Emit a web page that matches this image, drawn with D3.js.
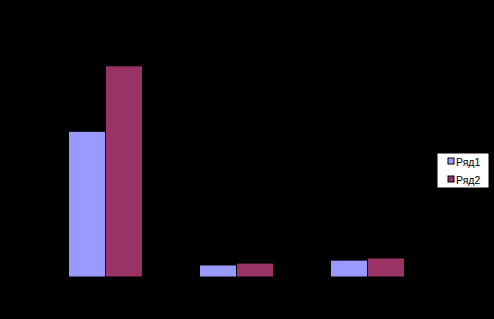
<!DOCTYPE html>
<html>
<head>
<meta charset="utf-8">
<script src="https://cdn.jsdelivr.net/npm/d3@7"></script>
<style>
  html, body { margin: 0; padding: 0; background: #000; }
  svg { display: block; }
</style>
</head>
<body>
<svg id="chart"></svg>
<script>
var categories = ["1", "2", "3"];
var seriesNames = ["Ряд1", "Ряд2"];
var series1 = [69, 5.7, 8];
var series2 = [100, 6.6, 9];
var colors = ["#9999FF", "#993366"];

var width = 494, height = 319;
var svg = d3.select("svg#chart").attr("width", width).attr("height", height);

svg.append("rect").attr("width", width).attr("height", height).attr("fill", "#000");

var plot = { left: 40, right: 433, top: 13, bottom: 277 };

var x = d3.scaleBand().domain(categories).range([plot.left, plot.right]).paddingInner(0.435).paddingOuter(0.2175);
var x1 = d3.scaleBand().domain(seriesNames).range([0, x.bandwidth()]);
var y = d3.scaleLinear().domain([0, 125]).range([plot.bottom, plot.top]);

var rows = categories.map(function (c, i) {
  return { cat: c, values: [series1[i], series2[i]] };
});

var g = svg.append("g");
g.selectAll("g.cat")
  .data(rows)
  .enter().append("g")
    .attr("class", "cat")
    .attr("transform", function (d) { return "translate(" + x(d.cat) + ",0)"; })
  .selectAll("rect")
  .data(function (d) { return d.values.map(function (v, j) { return { name: seriesNames[j], v: v, j: j }; }); })
  .enter().append("rect")
    .attr("x", function (d) { return x1(d.name); })
    .attr("y", function (d) { return y(d.v); })
    .attr("width", x1.bandwidth())
    .attr("height", function (d) { return y(0) - y(d.v); })
    .attr("fill", function (d) { return colors[d.j]; })
    .attr("stroke", "#000")
    .attr("stroke-width", 1);

// axes are drawn in black, so they vanish on the black background
svg.append("g")
  .attr("transform", "translate(0," + plot.bottom + ")")
  .call(d3.axisBottom(x).tickSize(0).tickFormat(""))
  .selectAll("path").attr("stroke", "#000");

// legend
var legend = svg.append("g").attr("transform", "translate(437,153)");
legend.append("rect").attr("width", 52).attr("height", 35).attr("fill", "#fff").attr("stroke", "#000");
var item = legend.selectAll("g.item")
  .data(seriesNames)
  .enter().append("g")
    .attr("class", "item")
    .attr("transform", function (d, i) { return "translate(11," + (5 + i * 18) + ")"; });
item.append("rect")
  .attr("width", 6).attr("height", 6)
  .attr("fill", function (d, i) { return colors[i]; })
  .attr("stroke", "#000");
item.append("text")
  .attr("x", 8).attr("y", 7.5)
  .attr("font-family", "Liberation Sans, Arial, sans-serif")
  .attr("font-size", 10.5)
  .attr("fill", "#000")
  .text(function (d) { return d; });
</script>
</body>
</html>
